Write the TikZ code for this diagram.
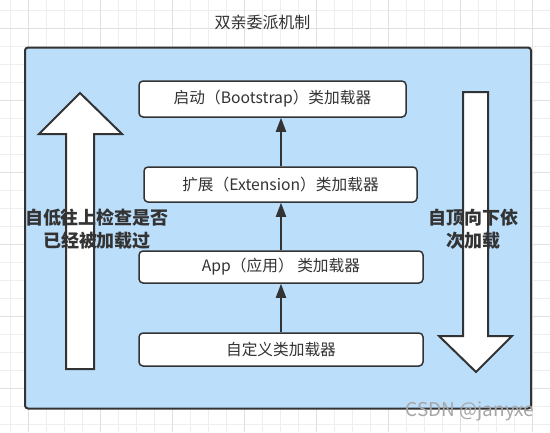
\documentclass[tikz,border=0pt]{standalone}
\usepackage{fontspec}
\setmainfont{Noto Sans CJK SC}
\usetikzlibrary{arrows.meta}
\definecolor{edge}{RGB}{51,51,51}
\definecolor{panel}{RGB}{187,222,251}
\definecolor{gridminor}{RGB}{238,238,238}
\definecolor{gridmajor}{RGB}{224,224,224}
\begin{document}
\begin{tikzpicture}[x=1pt,y=-1pt,
  loader/.style={draw=edge, line width=1.5pt, fill=white, rounded corners=4pt, inner sep=0pt,
    font=\fontsize{15.7}{18}\selectfont, text=edge},
  link/.style={draw=edge, line width=2pt, -{Triangle[width=10pt,length=14pt]}},
  bigarrow/.style={draw=edge, line width=2pt, fill=white, line join=miter},
  sidetext/.style={font=\bfseries\fontsize{18}{23}\selectfont, text=edge, align=center},
  minorline/.style={draw=gridminor, line width=1pt},
  majorline/.style={draw=gridmajor, line width=1pt}]
\useasboundingbox (0,0) rectangle (550,432);
\fill[white] (0,0) rectangle (550,432);
% grid
\foreach \i in {0,...,30} {
  \pgfmathsetmacro\gx{10.7+18*\i}
  \draw[minorline] (\gx,0) -- (\gx,432);
}
\foreach \i in {0,...,23} {
  \pgfmathsetmacro\gy{10.7+18*\i}
  \draw[minorline] (0,\gy) -- (550,\gy);
}
\foreach \i in {0,...,7} {
  \pgfmathsetmacro\gx{28.7+72*\i}
  \draw[majorline] (\gx,0) -- (\gx,432);
}
\foreach \i in {0,...,5} {
  \pgfmathsetmacro\gy{28.7+72*\i}
  \draw[majorline] (0,\gy) -- (550,\gy);
}
% title
\node[font=\fontsize{16}{19}\selectfont, text=edge] (title) at (262.5,22) {双亲委派机制};
% panel
\draw[draw=edge, fill=panel, line width=2pt, rounded corners=3pt] (25,47.5) rectangle (531,408.5);
% big arrows
\draw[bigarrow] (80,93) -- (122,134) -- (94,134) -- (94,369) -- (66,369) -- (66,134) -- (39,134) -- cycle;
\draw[bigarrow] (463,92) -- (488,92) -- (488,336) -- (512,336) -- (476,372) -- (439,336) -- (463,336) -- cycle;
% loaders
\node[loader, minimum width=267pt, minimum height=36pt] (boot) at (272.5,99) {启动（Bootstrap）类加载器};
\node[loader, minimum width=273pt, minimum height=35pt] (ext) at (280.5,184.5) {扩展（Extension）类加载器};
\node[loader, minimum width=284pt, minimum height=32pt] (app) at (281,267) {App（应用） 类加载器};
\node[loader, minimum width=284pt, minimum height=33pt] (custom) at (281,349.5) {自定义类加载器};
% connectors
\coordinate (lane) at (281,0);
\draw[link] (custom.north -| lane) -- (app.south -| lane);
\draw[link] (app.north -| lane) -- (ext.south -| lane);
\draw[link] (ext.north -| lane) -- (boot.south -| lane);
% side texts
\node[sidetext] (upnote) at (97,229.5) {自低往上检查是否\\已经被加载过};
\node[sidetext] (downnote) at (473.5,229) {自顶向下依\\次加载};
% watermark
\node[font=\fontsize{19}{21}\selectfont, text=gray!70] (mark) at (470,411) {CSDN @janyxe};
\end{tikzpicture}
\end{document}
